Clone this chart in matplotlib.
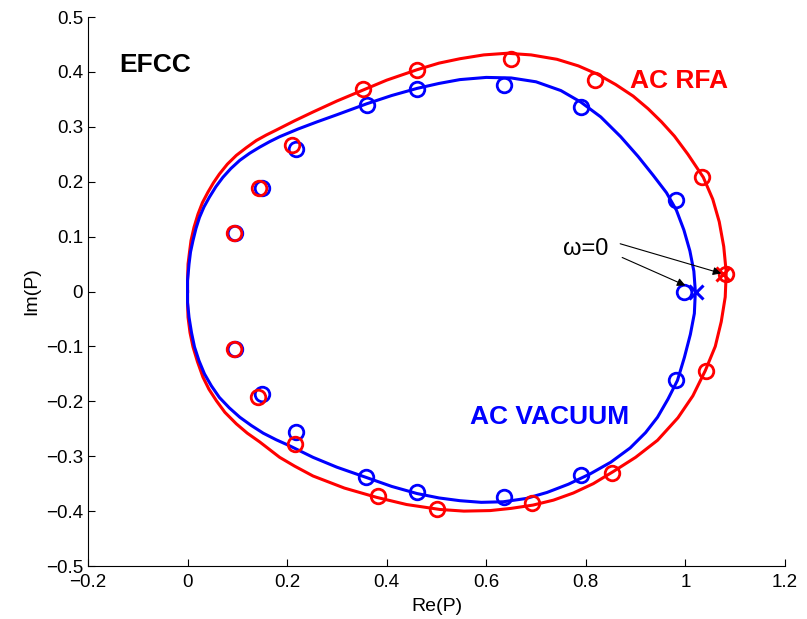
import numpy as np
from matplotlib import pyplot as plt

plt.rcParams['font.family'] = ['Liberation Sans', 'DejaVu Sans']

# AC VACUUM fitted curve (Re, Im)
vac_re = [0.000, 0.000, 0.003, 0.006, 0.011, 0.017, 0.024, 0.033, 0.044, 0.057,
          0.071, 0.087, 0.105, 0.125, 0.145, 0.165, 0.185, 0.222, 0.260, 0.300,
          0.360, 0.410, 0.461, 0.505, 0.547, 0.600, 0.650, 0.700, 0.750, 0.790,
          0.830, 0.870, 0.905, 0.935, 0.962, 0.982, 0.997, 1.009, 1.017, 1.020,
          1.018, 1.010, 0.998, 0.984, 0.965, 0.944, 0.920, 0.889, 0.850, 0.809,
          0.765, 0.722, 0.680, 0.634, 0.590, 0.547, 0.505, 0.461, 0.410, 0.360,
          0.300, 0.252, 0.205, 0.178, 0.152, 0.128, 0.105, 0.084, 0.064, 0.048,
          0.034, 0.023, 0.014, 0.008, 0.003, 0.000, 0.000]
vac_im = [0.000, 0.020, 0.050, 0.072, 0.093, 0.115, 0.135, 0.154, 0.172, 0.191,
          0.208, 0.224, 0.239, 0.252, 0.263, 0.273, 0.282, 0.296, 0.309, 0.322,
          0.342, 0.357, 0.370, 0.379, 0.386, 0.390, 0.389, 0.382, 0.366, 0.345,
          0.318, 0.282, 0.246, 0.212, 0.180, 0.148, 0.112, 0.074, 0.037, 0.000,
          -0.040, -0.078, -0.120, -0.162, -0.196, -0.229, -0.257, -0.285, -0.311, -0.332,
          -0.351, -0.366, -0.377, -0.383, -0.384, -0.381, -0.376, -0.368, -0.355, -0.339,
          -0.320, -0.302, -0.281, -0.270, -0.258, -0.244, -0.229, -0.212, -0.193, -0.172,
          -0.150, -0.126, -0.101, -0.075, -0.047, -0.020, 0.000]

# AC RFA fitted curve
rfa_re = [0.000, 0.000, 0.001, 0.004, 0.007, 0.013, 0.021, 0.030, 0.041, 0.052,
          0.064, 0.080, 0.098, 0.118, 0.138, 0.158, 0.178, 0.215, 0.252, 0.300,
          0.350, 0.400, 0.461, 0.505, 0.547, 0.595, 0.642, 0.690, 0.742, 0.785,
          0.823, 0.860, 0.895, 0.925, 0.952, 0.978, 1.005, 1.036, 1.055, 1.068,
          1.077, 1.082, 1.080, 1.072, 1.060, 1.040, 1.015, 0.985, 0.944, 0.900,
          0.855, 0.815, 0.775, 0.735, 0.694, 0.650, 0.608, 0.555, 0.507, 0.440,
          0.380, 0.315, 0.252, 0.215, 0.185, 0.145, 0.120, 0.098, 0.075, 0.058,
          0.043, 0.031, 0.020, 0.011, 0.005, 0.001, 0.000, 0.000]
rfa_im = [0.000, 0.020, 0.050, 0.072, 0.093, 0.117, 0.141, 0.162, 0.181, 0.198,
          0.214, 0.232, 0.248, 0.262, 0.275, 0.285, 0.294, 0.311, 0.327, 0.347,
          0.366, 0.385, 0.404, 0.416, 0.424, 0.431, 0.434, 0.431, 0.423, 0.411,
          0.396, 0.377, 0.356, 0.333, 0.309, 0.283, 0.250, 0.208, 0.168, 0.127,
          0.082, 0.035, -0.010, -0.055, -0.100, -0.144, -0.190, -0.230, -0.271, -0.302,
          -0.328, -0.350, -0.367, -0.380, -0.389, -0.395, -0.399, -0.400, -0.397, -0.388,
          -0.375, -0.358, -0.336, -0.318, -0.302, -0.274, -0.258, -0.241, -0.220, -0.199,
          -0.178, -0.156, -0.128, -0.101, -0.075, -0.047, -0.020, 0.000]

# measured points
vac_pts_re = [0.998, 0.982, 0.791, 0.636, 0.461, 0.360, 0.217, 0.149, 0.095,
              0.095, 0.149, 0.217, 0.358, 0.461, 0.636, 0.791, 0.982]
vac_pts_im = [0.000, 0.166, 0.337, 0.377, 0.368, 0.339, 0.259, 0.188, 0.107,
              -0.104, -0.186, -0.255, -0.337, -0.366, -0.375, -0.335, -0.162]
rfa_pts_re = [1.082, 1.034, 0.819, 0.650, 0.461, 0.352, 0.209, 0.143, 0.093,
              0.093, 0.141, 0.215, 0.382, 0.501, 0.692, 0.853, 1.042]
rfa_pts_im = [0.031, 0.208, 0.386, 0.423, 0.404, 0.368, 0.266, 0.189, 0.107,
              -0.104, -0.193, -0.277, -0.372, -0.397, -0.386, -0.330, -0.144]

# omega = 0 points
w0_vac = (1.022, 0.000)
w0_rfa = (1.076, 0.031)

fig = plt.figure(figsize=(8.07, 6.19), dpi=100)
ax = fig.add_axes([0.109, 0.0856, 0.8637, 0.8869])

ax.plot(rfa_re, rfa_im, color='red', lw=2.2)
ax.plot(vac_re, vac_im, color='blue', lw=2.2)
ax.plot(vac_pts_re, vac_pts_im, 'o', mfc='none', mec='blue', ms=10.5, mew=2)
ax.plot(rfa_pts_re, rfa_pts_im, 'o', mfc='none', mec='red', ms=10.5, mew=2)
ax.plot(*w0_vac, 'x', color='blue', ms=10, mew=2.2)
ax.plot(*w0_rfa, 'x', color='red', ms=10, mew=2.2)

# Anotações
ax.text(-0.137, 0.399, 'EFCC', fontsize=19, fontweight='bold', color='black')
ax.text(0.889, 0.370, 'AC RFA', fontsize=19, fontweight='bold', color='red')
ax.text(0.567, -0.242, 'AC VACUUM', fontsize=19, fontweight='bold', color='blue')
ax.text(0.755, 0.066, 'ω=0', fontsize=17, color='black')
arrow = dict(arrowstyle='-|>', color='black', lw=0.8, mutation_scale=12,
             shrinkA=0, shrinkB=0)
ax.annotate('', xy=(1.072, 0.033), xytext=(0.869, 0.087), arrowprops=arrow)
ax.annotate('', xy=(1.000, 0.011), xytext=(0.873, 0.062), arrowprops=arrow)

ax.set_xlim(-0.2, 1.2)
ax.set_ylim(-0.5, 0.5)
ax.set_xticks(np.arange(-0.2, 1.21, 0.2))
ax.set_yticks(np.arange(-0.5, 0.51, 0.1))
ax.set_xticklabels(['\u22120.2', '0', '0.2', '0.4', '0.6', '0.8', '1', '1.2'])
ax.set_yticklabels(['\u22120.5', '\u22120.4', '\u22120.3', '\u22120.2', '\u22120.1',
                    '0', '0.1', '0.2', '0.3', '0.4', '0.5'])
ax.tick_params(direction='in', length=5, labelsize=13.5, width=0.8)
ax.tick_params(axis='x', pad=6)
ax.spines['top'].set_visible(False)
ax.spines['right'].set_visible(False)
ax.set_xlabel('Re(P)', fontsize=14, labelpad=5)
ax.set_ylabel('Im(P)', fontsize=14, labelpad=4)

plt.savefig('out.png', dpi=100)
